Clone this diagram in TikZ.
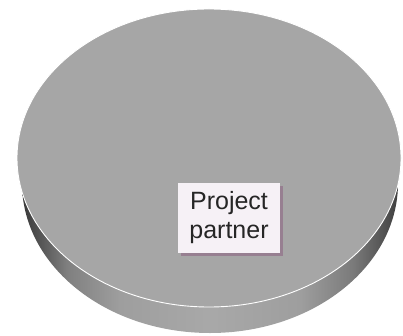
\documentclass[tikz,border=0pt]{standalone}
\usepackage{fontspec}
\setmainfont{Liberation Sans}
\usetikzlibrary{shadows,fadings}
\definecolor{topgray}{HTML}{A6A6A6}
\definecolor{labelbg}{HTML}{F6F1F6}
\definecolor{shadowpurple}{HTML}{8A5A7E}
\pgfdeclarehorizontalshading{wallshade}{100bp}{color(0bp)=(black!78); color(25bp)=(black!78); color(31bp)=(black!50); color(38bp)=(black!38); color(50bp)=(black!34); color(62bp)=(black!38); color(69bp)=(black!52); color(75bp)=(black!75); color(100bp)=(black!75)}
\tikzset{
  disctop/.style={fill=topgray, draw=white, line width=0.9pt},
  discwall/.style={shading=wallshade},
  labelbox/.style={fill=labelbg, minimum width=102pt, minimum height=70pt, inner sep=0pt, align=center,
    font=\fontsize{25}{29}\selectfont, text=black!85,
    drop shadow={shadow xshift=3pt, shadow yshift=-3pt, fill=shadowpurple, opacity=0.5}}
}
\begin{document}
\begin{tikzpicture}[x=1pt,y=1pt]
\useasboundingbox (0,0) rectangle (403,335);
% side wall (bottom ellipse)
\shade[discwall] (210,152) ellipse [x radius=188, y radius=150];
% top face
\path[disctop] (209,177) ellipse [x radius=192, y radius=149];
% label
\node[labelbox] (label) at (229,117) {Project\\partner};
\end{tikzpicture}
\end{document}
